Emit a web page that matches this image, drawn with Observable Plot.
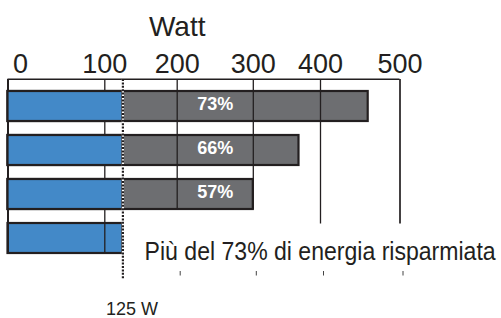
<!DOCTYPE html>
<html><head><meta charset="utf-8">
<script src="https://cdn.jsdelivr.net/npm/d3@7"></script>
<script src="https://cdn.jsdelivr.net/npm/@observablehq/plot@0.6"></script>
<style>
html,body{margin:0;padding:0;background:#fff;}
#chart svg{display:block;}
</style></head><body><div id="chart"></div>
<script>
// ---- data ----
const rows = ["A", "B", "C", "D"];
const totals = [460, 368, 300, 125];
const savings = ["73%", "66%", "57%", ""];
const reference = 125;
const ticks = [0, 100, 200, 300, 400, 500];
const tickLabels = ["0", "100", "200", "300", "400", "500"];
const axisTitle = "Watt";
const note = "Più del 73% di energia risparmiata";
const refLabel = "125 W";

const data = rows.map((r, i) => ({row: r, total: totals[i], saving: savings[i]}));
const withGray = data.filter(d => d.total > reference);
const ledOnly = data.filter(d => d.total <= reference);
const tickData = ticks.map((t, i) => ({t, label: tickLabels[i]}));

const ink = "#231f20", blue = "#4389c8", gray = "#6d6e71";
const font = "'Liberation Sans', Arial, Helvetica, sans-serif";
const first = () => rows[0], third = () => rows[2], last = () => rows[3];

const chart = Plot.plot({
  width: 501, height: 318,
  marginTop: 77, marginBottom: 4, marginLeft: 0, marginRight: 0,
  style: {fontFamily: font, background: "#fff", color: ink, overflow: "visible"},
  x: {type: "linear", domain: ticks, range: [7.5, 104.3, 176.7, 252.8, 320, 399.5], axis: null},
  y: {type: "band", domain: rows, range: [77, 266.5], paddingInner: 0.322, paddingOuter: 0.2666, axis: null},
  marks: [
    Plot.barX(withGray, {y: "row", x1: 0, x2: "total", fill: gray, stroke: ink, strokeWidth: 2.2}),
    Plot.barX(ledOnly, {y: "row", x1: 0, x2: reference, fill: blue, stroke: ink, strokeWidth: 2.2}),
    // grid
    Plot.ruleX([100], {y1: first, y2: last, insetTop: -12, stroke: ink, strokeWidth: 1.3}),
    Plot.ruleX([200, 300], {y1: first, y2: third, insetTop: -12, stroke: ink, strokeWidth: 1.3}),
    Plot.ruleX([400], {y1: first, y2: third, insetTop: -12, insetBottom: -14.5, stroke: ink, strokeWidth: 1.3}),
    Plot.ruleX([500], {y1: first, y2: third, insetTop: -12, insetBottom: -14.5, stroke: ink, strokeWidth: 1.7}),
    // frame
    Plot.ruleX([0], {y1: first, y2: last, insetTop: -12, stroke: ink, strokeWidth: 2}),
    Plot.ruleY([rows[0]], {x1: 0, x2: 500, dy: -27.25, stroke: ink, strokeWidth: 1.7}),
    // blue part of the bars
    Plot.barX(withGray, {y: "row", x1: 0, x2: reference, fill: blue, stroke: ink, strokeWidth: 2.2}),
    // 125 W dotted line
    Plot.ruleX([reference], {y1: first, y2: last, insetTop: -12, insetBottom: -25.5, stroke: "#fff", strokeWidth: 2.2}),
    Plot.ruleX([reference], {y1: first, y2: last, insetTop: -12, insetBottom: -25.5, stroke: ink, strokeWidth: 2.2, strokeDasharray: "2,1.4"}),
    // percentages
    Plot.text(withGray, {x: () => 250, y: "row", text: "saving", fill: "#fff", fontWeight: "bold", fontSize: 18, dy: -2}),
    // tick labels
    Plot.text(tickData.slice(0, 1), {x: "t", text: "label", frameAnchor: "top", lineAnchor: "bottom", textAnchor: "start", dx: 5, dy: -5, fontSize: 27, fill: ink}),
    Plot.text(tickData.slice(1), {x: "t", text: "label", frameAnchor: "top", lineAnchor: "bottom", dy: -5, fontSize: 27, fill: ink}),
    // axis title
    Plot.text([axisTitle], {x: () => 200, text: d => d, frameAnchor: "top", lineAnchor: "bottom", dy: -42, fontSize: 28, fill: ink}),
    // note
    Plot.text([note], {x: () => 155, y: last, text: d => d, lineAnchor: "bottom", textAnchor: "start", dy: 21.75, fontSize: 26.5, fill: ink}),
    // small ticks under note
    Plot.ruleX([200, 300, 400, 500], {dx: 3, y1: last, y2: last, insetTop: 48, insetBottom: -22.5, stroke: "#444", strokeWidth: 1}),
    // 125 W label
    Plot.text([refLabel], {x: () => reference, text: d => d, frameAnchor: "bottom", lineAnchor: "bottom", textAnchor: "start", dx: -17, fontSize: 18, fill: ink})
  ]
});

document.getElementById("chart").appendChild(chart);
Array.from(chart.querySelectorAll("text")).filter(t => t.textContent === note).forEach(t => {
  const x0 = +(t.getAttribute("x") || 0);
  t.setAttribute("transform", (t.getAttribute("transform") || "") + ` translate(${x0},0) scale(0.87,1) translate(${-x0},0)`);
});
</script>
</body></html>
